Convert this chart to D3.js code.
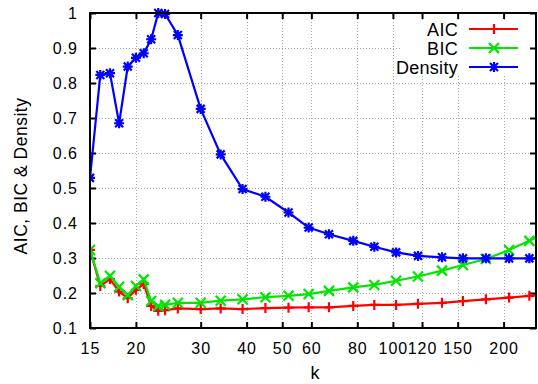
<!DOCTYPE html>
<html>
<head>
<meta charset="utf-8">
<script src="https://cdn.jsdelivr.net/npm/d3@7"></script>
<style>
  body { margin: 0; background: #fff; }
  text { font-family: "Liberation Sans", Arial, sans-serif; fill: #000; }
</style>
</head>
<body>
<div id="chart"></div>
<script>
// data
const ks = [15, 16, 17, 18, 19, 20, 21, 22, 23, 24, 26, 30, 34, 39, 45, 52, 59, 67, 78, 89, 102, 117, 136, 155, 179, 207, 235, 270];
const aic = [0.323, 0.22, 0.24, 0.204, 0.185, 0.209, 0.226, 0.163, 0.149, 0.151, 0.156, 0.154, 0.156, 0.154, 0.157, 0.158, 0.159, 0.159, 0.163, 0.166, 0.166, 0.169, 0.172, 0.177, 0.182, 0.187, 0.192, 0.198];
const bic = [0.323, 0.228, 0.249, 0.218, 0.194, 0.22, 0.239, 0.177, 0.163, 0.166, 0.172, 0.172, 0.178, 0.182, 0.188, 0.192, 0.197, 0.206, 0.216, 0.223, 0.235, 0.247, 0.264, 0.28, 0.297, 0.323, 0.349, 0.378];
const density = [0.529, 0.823, 0.828, 0.685, 0.847, 0.872, 0.885, 0.925, 1.0, 0.997, 0.937, 0.726, 0.596, 0.497, 0.475, 0.43, 0.387, 0.368, 0.349, 0.332, 0.316, 0.306, 0.302, 0.299, 0.299, 0.299, 0.299, 0.299];
const xTicks = [15, 20, 30, 40, 50, 60, 80, 100, 120, 150, 200];
const yTicks = [0.1, 0.2, 0.3, 0.4, 0.5, 0.6, 0.7, 0.8, 0.9, 1];

const series = [
    {name: 'AIC', values: aic, color: '#ff0000', marker: 'plus'},
    {name: 'BIC', values: bic, color: '#00e600', marker: 'cross'},
    {name: 'Density', values: density, color: '#0000ff', marker: 'star'}
];

const width = 538;
const height = 384;
const margin = {top: 13, right: 2, bottom: 56, left: 90};

const svg = d3.select('#chart')
    .append('svg')
        .attr('width', width)
        .attr('height', height);

const x = d3.scaleLog()
    .domain([15, 245])
    .range([margin.left, width - margin.right]);
const y = d3.scaleLinear()
    .domain([0.1, 1])
    .range([height - margin.bottom, margin.top]);

const plotLeft = margin.left, plotRight = width - margin.right;
const plotTop = margin.top, plotBottom = height - margin.bottom;

// dotted grid
const grid = svg.append('g')
    .attr('stroke', '#aaa')
    .attr('stroke-width', 1)
    .attr('stroke-dasharray', '1,2');
grid.selectAll('.gx')
    .data(xTicks.slice(1))
    .join('line')
        .attr('x1', d => Math.round(x(d)) + 0.5)
        .attr('x2', d => Math.round(x(d)) + 0.5)
        .attr('y1', plotTop)
        .attr('y2', plotBottom);
grid.selectAll('.gy')
    .data(yTicks.slice(1, -1))
    .join('line')
        .attr('x1', plotLeft)
        .attr('x2', plotRight)
        .attr('y1', d => Math.round(y(d)) + 0.5)
        .attr('y2', d => Math.round(y(d)) + 0.5);

// axes: bottom / left with labels, top / right with ticks only
const tickLen = 6;
const styleLabels = g => g.selectAll('text')
    .attr('font-size', 16)
    .attr('letter-spacing', 1)
    .attr('font-family', '"Liberation Sans", Arial, sans-serif');
svg.append('g')
    .attr('transform', `translate(0, ${plotBottom})`)
    .call(d3.axisBottom(x).tickValues(xTicks).tickFormat(d3.format('d')).tickSizeInner(-tickLen).tickSizeOuter(0).tickPadding(15))
    .call(g => g.select('.domain').remove())
    .call(g => g.selectAll('line').attr('stroke-width', 2))
    .call(styleLabels);
svg.append('g')
    .attr('transform', `translate(0, ${plotTop})`)
    .call(d3.axisTop(x).tickValues(xTicks).tickFormat('').tickSizeInner(-tickLen).tickSizeOuter(0))
    .call(g => g.select('.domain').remove())
    .call(g => g.selectAll('line').attr('stroke-width', 2));
svg.append('g')
    .attr('transform', `translate(${plotLeft}, 0)`)
    .call(d3.axisLeft(y).tickValues(yTicks).tickFormat(d3.format('')).tickSizeInner(-tickLen).tickSizeOuter(0).tickPadding(12))
    .call(g => g.select('.domain').remove())
    .call(g => g.selectAll('line').attr('stroke-width', 2))
    .call(styleLabels);
svg.append('g')
    .attr('transform', `translate(${plotRight}, 0)`)
    .call(d3.axisRight(y).tickValues(yTicks).tickFormat('').tickSizeInner(-tickLen).tickSizeOuter(0))
    .call(g => g.select('.domain').remove())
    .call(g => g.selectAll('line').attr('stroke-width', 2));

// axis titles
svg.append('text')
    .attr('x', 315)
    .attr('y', 379)
    .attr('text-anchor', 'middle')
    .attr('font-size', 18)
    .text('k');
svg.append('text')
    .attr('transform', 'translate(27, 176) rotate(-90)')
    .attr('text-anchor', 'middle')
    .attr('font-size', 17.5)
    .attr('letter-spacing', 0.5)
    .text('AIC, BIC & Density');

// clip lines to plot area
svg.append('clipPath')
    .attr('id', 'plot-clip')
    .append('rect')
        .attr('x', plotLeft)
        .attr('y', plotTop - 6)
        .attr('width', plotRight - plotLeft)
        .attr('height', plotBottom - plotTop + 12);

const markerPath = (type, s) => {
    const p = d3.path();
    if (type === 'plus' || type === 'star') {
        p.moveTo(-s, 0); p.lineTo(s, 0);
        p.moveTo(0, -s); p.lineTo(0, s);
    }
    if (type === 'cross' || type === 'star') {
        const c = type === 'star' ? s * 0.8 : s;
        p.moveTo(-c, -c); p.lineTo(c, c);
        p.moveTo(-c, c); p.lineTo(c, -c);
    }
    return p.toString();
};

const line = d3.line()
    .x(d => x(d.k))
    .y(d => y(d.v));

const plot = svg.append('g').attr('clip-path', 'url(#plot-clip)');
series.forEach(s => {
    const pts = ks.map((k, i) => ({k: k, v: s.values[i]}));
    const g = plot.append('g');
    g.append('path')
        .datum(pts)
        .attr('fill', 'none')
        .attr('stroke', s.color)
        .attr('stroke-width', 2.2)
        .attr('d', line);
    g.selectAll('.mk')
        .data(pts.filter(d => d.k <= 245))
        .join('path')
            .attr('transform', d => `translate(${x(d.k)}, ${y(d.v)})`)
            .attr('d', markerPath(s.marker, 5))
            .attr('fill', 'none')
            .attr('stroke', s.color)
            .attr('stroke-width', 2.2);
});

// border
svg.append('rect')
    .attr('x', plotLeft)
    .attr('y', plotTop)
    .attr('width', plotRight - plotLeft)
    .attr('height', plotBottom - plotTop)
    .attr('fill', 'none')
    .attr('stroke', '#000')
    .attr('stroke-width', 2);

// legend
const legend = svg.append('g')
    .selectAll('.legend-item')
    .data(series)
    .join('g')
        .attr('transform', (d, i) => `translate(0, ${29 + i * 19})`);
legend.append('rect')
    .attr('x', 400)
    .attr('y', -9)
    .attr('width', 130)
    .attr('height', 18)
    .attr('fill', '#fff');
legend.append('text')
    .attr('x', 458)
    .attr('y', 6.5)
    .attr('text-anchor', 'end')
    .attr('font-size', 18)
    .attr('letter-spacing', 0.3)
    .text(d => d.name);
legend.append('line')
    .attr('x1', 469)
    .attr('x2', 518)
    .attr('stroke', d => d.color)
    .attr('stroke-width', 2.2);
legend.append('path')
    .attr('transform', 'translate(494, 0)')
    .attr('d', d => markerPath(d.marker, 5))
    .attr('fill', 'none')
    .attr('stroke', d => d.color)
    .attr('stroke-width', 2.2);
</script>
</body>
</html>
